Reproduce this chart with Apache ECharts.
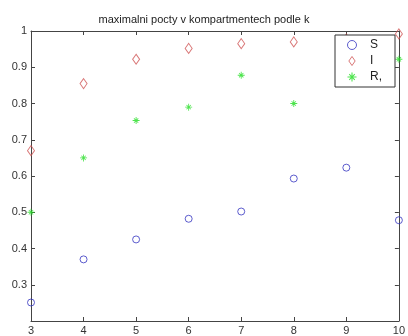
<!DOCTYPE html>
<html>
<head>
<meta charset="utf-8">
<script src="https://cdn.jsdelivr.net/npm/echarts@6/dist/echarts.min.js"></script>
<style>
  html, body { margin: 0; padding: 0; background: #fff; }
  #main { width: 408px; height: 336px; }
</style>
</head>
<body>
<div id="main"></div>
<script>
var k = [3, 4, 5, 6, 7, 8, 9, 10];
var sVals = [0.251, 0.370, 0.425, 0.482, 0.502, 0.593, 0.623, 0.478];
var iVals = [0.670, 0.855, 0.922, 0.952, 0.965, 0.970, 0.978, 0.992];
var rVals = [0.500, 0.650, 0.753, 0.790, 0.878, 0.800, 0.900, 0.922];
var seriesNames = ['S', 'I', 'R,'];

function pairs(vals) {
    return k.map(function (x, i) { return [x, vals[i]]; });
}

// asterisk marker like matlab '*'
var star = 'path://M4.4 0L5.6 0L5.6 10L4.4 10ZM0 4.4L10 4.4L10 5.6L0 5.6ZM1.5 2.3L2.3 1.5L8.5 7.7L7.7 8.5ZM7.7 1.5L8.5 2.3L2.3 8.5L1.5 7.7Z';
var diamond = 'path://M3.5 0L7 5L3.5 10L0 5Z';

var blue = '#3535c0', red = '#d05555', green = '#22dd22';

var chartDom = document.getElementById('main');
var myChart = echarts.init(chartDom);
var axisColor = '#444';
var labelStyle = { color: '#333', fontSize: 11, fontFamily: 'Liberation Sans, Arial, sans-serif' };

var option = {
    animation: false,
    title: {
        text: 'maximalni pocty v kompartmentech podle k',
        left: 'center',
        top: 9,
        textStyle: { color: '#222', fontSize: 11, fontWeight: 'normal', fontFamily: 'Liberation Sans, Arial, sans-serif' }
    },
    grid: { left: 31, right: 6, top: 31, bottom: 13 },
    legend: {
        orient: 'vertical',
        left: 335,
        top: 35,
        padding: [4, 13, 4, 12],
        itemWidth: 26,
        itemHeight: 9,
        itemGap: 4,
        backgroundColor: '#fff',
        borderColor: '#333',
        borderWidth: 1,
        textStyle: { color: '#222', fontSize: 12, lineHeight: 12, fontFamily: 'Liberation Sans, Arial, sans-serif' },
        data: [
            { name: seriesNames[0], icon: 'circle', itemStyle: { color: 'rgba(0,0,0,0)', borderColor: blue, borderWidth: 1 } },
            { name: seriesNames[1], icon: diamond, itemStyle: { color: 'rgba(0,0,0,0)', borderColor: red, borderWidth: 1 } },
            { name: seriesNames[2], icon: star, itemStyle: { color: green, borderWidth: 0 } }
        ]
    },
    xAxis: [
        {
            type: 'value', min: 3, max: 10, interval: 1,
            axisLine: { lineStyle: { color: axisColor } },
            axisTick: { inside: true, length: 4, lineStyle: { color: axisColor } },
            axisLabel: Object.assign({ margin: 4 }, labelStyle),
            splitLine: { show: false }
        },
        {
            type: 'value', min: 3, max: 10, interval: 1, position: 'top',
            axisLine: { lineStyle: { color: axisColor } },
            axisTick: { inside: true, length: 4, lineStyle: { color: axisColor } },
            axisLabel: { show: false },
            splitLine: { show: false }
        }
    ],
    yAxis: [
        {
            type: 'value', min: 0.2, max: 1, interval: 0.1,
            axisLine: { show: true, lineStyle: { color: axisColor } },
            axisTick: { show: true, inside: true, length: 4, lineStyle: { color: axisColor } },
            axisLabel: Object.assign({ margin: 4, showMinLabel: false, formatter: function (v) { return String(+v.toFixed(1)); } }, labelStyle),
            splitLine: { show: false }
        },
        {
            type: 'value', min: 0.2, max: 1, interval: 0.1, position: 'right',
            axisLine: { show: true, lineStyle: { color: axisColor } },
            axisTick: { show: true, inside: true, length: 4, lineStyle: { color: axisColor } },
            axisLabel: { show: false },
            splitLine: { show: false }
        }
    ],
    series: [
        {
            name: seriesNames[0],
            type: 'scatter',
            symbol: 'circle',
            symbolSize: 7,
            itemStyle: { color: 'rgba(0,0,0,0)', borderColor: blue, borderWidth: 1 },
            data: pairs(sVals)
        },
        {
            name: seriesNames[1],
            type: 'scatter',
            symbol: 'diamond',
            symbolSize: [7, 10],
            itemStyle: { color: 'rgba(0,0,0,0)', borderColor: red, borderWidth: 1 },
            data: pairs(iVals)
        },
        {
            name: seriesNames[2],
            type: 'scatter',
            symbol: star,
            symbolSize: 7,
            itemStyle: { color: green },
            data: pairs(rVals)
        }
    ]
};

option && myChart.setOption(option);
window.addEventListener('resize', function () {
    myChart.resize();
});
</script>
</body>
</html>
